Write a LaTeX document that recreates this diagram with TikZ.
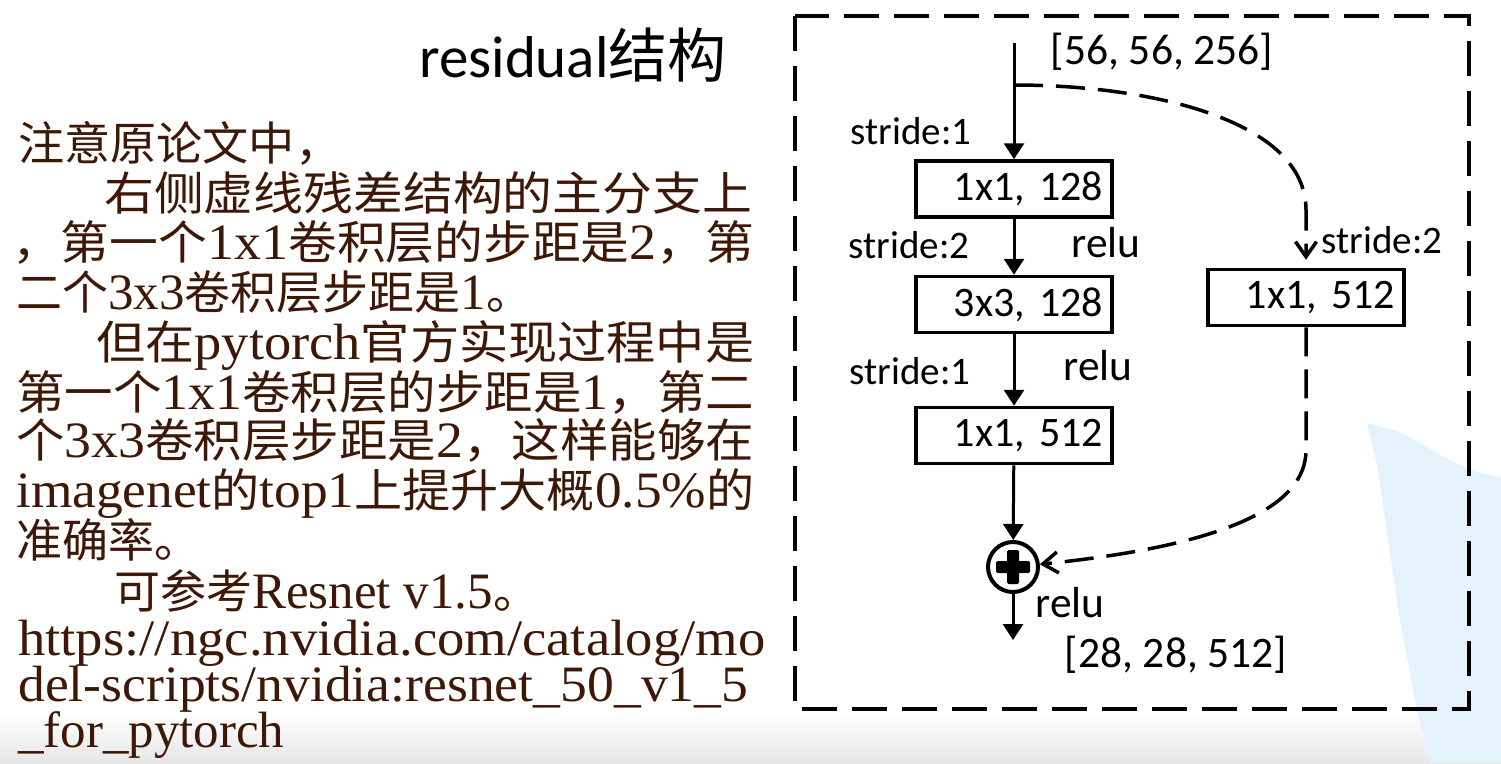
\documentclass[tikz,border=0pt]{standalone}
\usepackage{fontspec}
\usepackage{graphicx}
\setmainfont{Liberation Serif}
\newfontfamily\cjk{Noto Sans CJK SC}
\newfontfamily\diag{Carlito}
\usetikzlibrary{arrows.meta}
\definecolor{brownink}{RGB}{62,24,6}
\definecolor{bluebg}{RGB}{228,243,251}
\newcommand\zh[1]{{\cjk\fontsize{46}{50}\selectfont #1}}
\newcommand\latfont{\fontsize{51}{55}\selectfont}
\newcommand\boxfont{\diag\fontsize{42}{46}\selectfont}
\newcommand\lblfont{\diag\fontsize{39}{44}\selectfont}
\newcommand\bigfont{\diag\fontsize{43.5}{48}\selectfont}
\tikzset{
  box/.style={draw, line width=3.5pt, minimum width=196pt, minimum height=56pt,
    text width=178pt, align=right, inner xsep=9pt, inner ysep=0pt, font=\boxfont},
  lbl/.style={font=\lblfont, inner sep=0pt},
  biglbl/.style={font=\bigfont, inner sep=0pt},
  arr/.style={line width=3pt, -{Triangle[length=16pt,width=20pt]}},
  darr/.style={line width=3.5pt, dash pattern=on 29pt off 13pt,
    -{Straight Barb[length=15pt,width=21pt,line width=3.5pt]}},
  frame/.style={line width=4pt, dash pattern=on 35pt off 15pt},
  para/.style={anchor=base west, inner sep=0pt, text=brownink, font=\latfont},
}
\begin{document}
\begin{tikzpicture}[x=1pt,y=-1pt]
\useasboundingbox (0,0) rectangle (1501,763);
\fill[white] (0,0) rectangle (1501,763);
\shade[top color=white, bottom color=black!10] (0,712) rectangle (1501,763);
\fill[bluebg] (1367,423) -- (1400,432) -- (1440,455) -- (1470,470) -- (1501,478)
  -- (1501,763) -- (1430,763) -- (1415,700) -- (1400,620) -- (1388,540) -- (1378,470) -- cycle;

% title
\node[inner sep=0pt, font=\diag\fontsize{59}{63}\selectfont] (title) at (573,55)
  {residual{\cjk 结构}};

% left paragraph
\node[para] (l1) at (18,160) {\resizebox{323pt}{\height}{\zh{注意原论文中，}}};
\node[para] (l2) at (104,210) {\resizebox{648pt}{\height}{\zh{右侧虚线残差结构的主分支上}}};
\node[para] (l3) at (12,259) {\resizebox{742pt}{\height}{\zh{，第一个}1x1\zh{卷积层的步距是}2\zh{，第}}};
\node[para] (l4) at (16,309) {\zh{二个}3x3\zh{卷积层步距是}1\zh{。}};
\node[para] (l5) at (96,359) {\resizebox{658pt}{\height}{\zh{但在}pytorch\zh{官方实现过程中是}}};
\node[para] (l6) at (16,409) {\resizebox{738pt}{\height}{\zh{第一个}1x1\zh{卷积层的步距是}1\zh{，第二}}};
\node[para] (l7) at (16,457) {\resizebox{738pt}{\height}{\zh{个}3x3\zh{卷积层步距是}2\zh{，这样能够在}}};
\node[para] (l8) at (16,507) {\resizebox{738pt}{\height}{imagenet\zh{的}top1\zh{上提升大概}0.5\%\zh{的}}};
\node[para] (l9) at (16,557) {\zh{准确率。}};
\node[para] (l10) at (114,608) {\zh{可参考}Resnet v1.5\zh{。}};
\node[para] (l11) at (18,655) {\resizebox{747pt}{\height}{https://ngc.nvidia.com/catalog/mo}};
\node[para] (l12) at (18,701) {\resizebox{730pt}{\height}{del-scripts/nvidia:resnet\_50\_v1\_5}};
\node[para] (l13) at (18,747) {\_for\_pytorch};

% frame
\draw[frame] (795,16) rectangle (1469,709);

% nodes
\coordinate (in) at (1014,43);
\coordinate (br) at (1014,85);
\node[box] (b1) at (1014,189) {1x1, 128};
\node[box] (b2) at (1014,304.5) {3x3, 128};
\node[box] (b3) at (1014,435.5) {1x1, 512};
\node[box] (rb) at (1306,297.5) {1x1, 512};
\node[draw, circle, line width=4pt, minimum size=50pt, inner sep=0pt] (plus) at (1013,567) {};
\fill[shift={(plus.center)}, rounded corners=1.5pt] (-17,-6) rectangle (17,6);
\fill[shift={(plus.center)}, rounded corners=1.5pt] (-6,-17) rectangle (6,17);
\coordinate (out) at (1013,640);

% labels
\node[biglbl] (shin) at (1162,52) {[56, 56, 256]};
\node[lbl] (s1) at (911,131) {stride:1};
\node[lbl] (s2) at (909,245) {stride:2};
\node[biglbl] (r1) at (1106,243) {relu};
\node[lbl] (s3) at (910,371) {stride:1};
\node[biglbl] (r2) at (1098,366) {relu};
\node[lbl] (s4) at (1382,240) {stride:2};
\node[biglbl] (r3) at (1070,603) {relu};
\node[biglbl] (shout) at (1176,655) {[28, 28, 512]};

% connectors
\draw[arr] (in) -- (b1);
\draw[arr] (b1) -- (b2);
\draw[arr] (b2) -- (b3);
\draw[arr] (b3) -- (plus);
\draw[arr] (plus) -- (out);
\draw[darr, shorten >=8pt] (br) .. controls (1150,85) and (1306,120) .. (1306,210) -- (rb.north);
\draw[darr] (rb.south) -- (1306,450) .. controls (1306,505) and (1230,545) .. (plus);
\end{tikzpicture}
\end{document}
